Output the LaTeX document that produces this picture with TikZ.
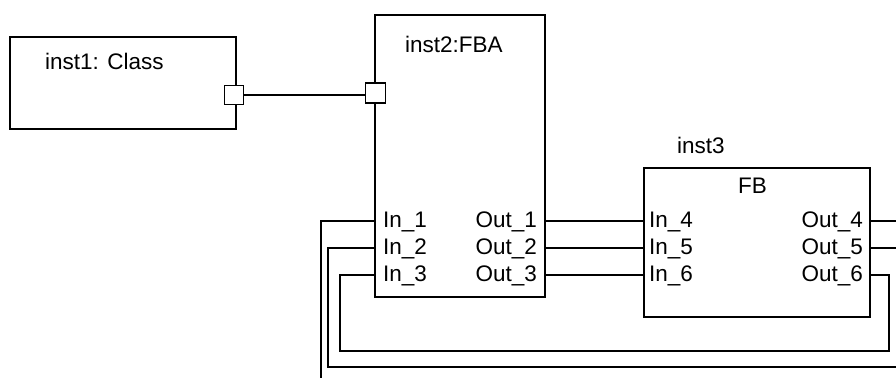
\documentclass[tikz,border=0pt]{standalone}
\usepackage{fontspec}
\setmainfont{Liberation Sans}
\tikzset{
  block/.style={draw,line width=1.5pt,anchor=north west,inner sep=0pt,outer sep=0pt},
  port/.style={draw,fill=white,line width=1.5pt,minimum size=19pt,inner sep=0pt},
  wire/.style={line width=1.2pt},
  lbl/.style={inner sep=0pt,font=\fontsize{22.5}{26}\selectfont},
}
\begin{document}
\begin{tikzpicture}[x=1pt,y=-1pt]
  \useasboundingbox (0,0) rectangle (896,378);
  % blocks
  \node[block,minimum width=226pt,minimum height=92pt] (inst1) at (10,37) {};
  \node[block,line width=1.9pt,minimum width=170pt,minimum height=282pt] (inst2) at (375,15) {};
  \node[block,minimum width=226pt,minimum height=149pt] (inst3) at (644,168) {};
  \node[lbl,anchor=base west] (name1) at (45,69) {inst1: Class};
  \node[lbl,anchor=base west] (name2) at (405,52) {inst2:FBA};
  \node[lbl,anchor=base west] (name3) at (677,153) {inst3};
  \node[lbl,anchor=base west] (type3) at (738,193) {FB};
  % pins
  \foreach \i/\j/\y in {1/4/221,2/5/248,3/6/275} {
    \node[lbl,anchor=base west] (in\i) at (383,\y+6) {In\_\i};
    \node[lbl,anchor=base east] (out\i) at (537,\y+6) {Out\_\i};
    \node[lbl,anchor=base west] (in\j) at (649,\y+6) {In\_\j};
    \node[lbl,anchor=base east] (out\j) at (863,\y+6) {Out\_\j};
    \coordinate (fba-in\i) at (375,\y);
    \coordinate (fba-out\i) at (545,\y);
    \coordinate (fb-in\j) at (644,\y);
    \coordinate (fb-out\j) at (870,\y);
    \draw[wire] (fba-out\i) -- (fb-in\j);
  }
  % wires leaving the picture
  \coordinate (exit-bot) at (321,378);
  \coordinate (exit-r2) at (896,367);
  \coordinate (exit-r4) at (896,221);
  \coordinate (exit-r5) at (896,248);
  \coordinate (loop2) at (328,367);
  \coordinate (loop3) at (340,351);
  \coordinate (loop6) at (889,275);
  \draw[wire] (fba-in1) -| (exit-bot);
  \draw[wire] (fba-in2) -| (loop2) -- (exit-r2);
  \draw[wire] (fb-out6) -- (loop6) |- (loop3) |- (fba-in3);
  \draw[wire] (fb-out4) -- (exit-r4);
  \draw[wire] (fb-out5) -- (exit-r5);
  % ports
  \node[port] (p1) at (234,95) {};
  \node[port,line width=1.9pt,minimum size=20pt] (p2) at (375.5,93) {};
  \draw[wire] (p1.east) -- (p1.east -| p2.west);
\end{tikzpicture}
\end{document}
